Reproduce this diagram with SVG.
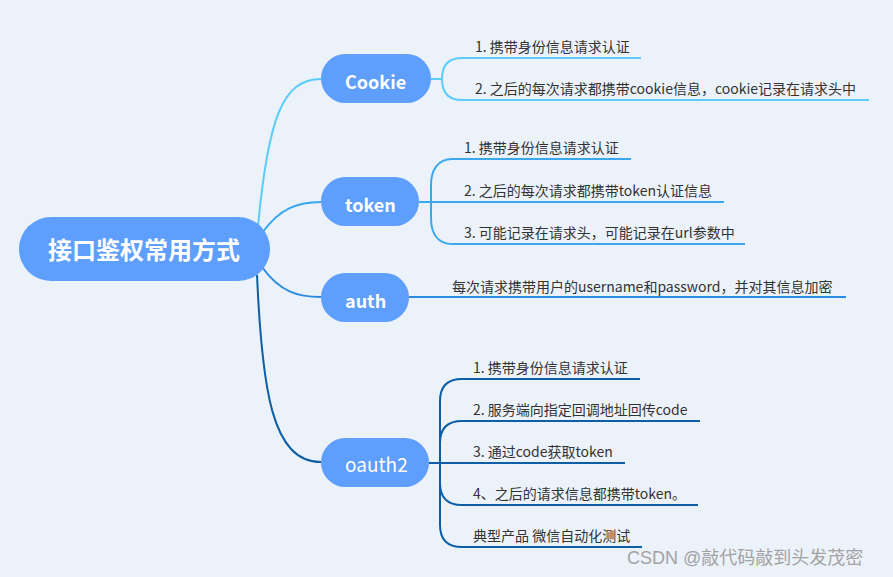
<svg xmlns="http://www.w3.org/2000/svg" width="893" height="577" viewBox="0 0 893 577">
<style>
.bg{fill:#ecf2fa}
.node{fill:#5e9efc}
.nt{fill:#fff;font-family:"Noto Sans CJK SC","Noto Sans",sans-serif;font-size:18px;font-weight:bold}
.ct{fill:#333;font-family:"Noto Sans CJK SC","Noto Sans",sans-serif;font-size:14px}
.l{fill:none;stroke-width:2}
.c1{stroke:#5ccdf8}
.c2{stroke:#3aa8ef}
.c3{stroke:#2b8be0}
.c4{stroke:#0c5fa6}
.wm{fill:#a3a3a3;font-family:"Liberation Sans","Noto Sans CJK SC",sans-serif;font-size:18px}
</style>
<rect class="bg" x="0" y="0" width="893" height="577"/>
<g id="connectors">
  <path class="l c1" d="M258 226 C268 120 282 79 321 79"/>
  <path class="l c2" d="M262 233 C280 208 298 202 321 202"/>
  <path class="l c3" d="M262 267 C280 292 298 297 321 297"/>
  <path class="l c4" d="M257 275 C262 390 272 462 321 462"/>
  <path class="l c1" d="M431 79 H442"/>
  <path class="l c1" d="M641 58 H462 C448 58 442 66 442 79 C442 92 448 100 462 100 H869"/>
  <path class="l c2" d="M631 159 H452 C438 159 431 170 431 185 V218 C431 234 438 244 452 244 H745"/>
  <path class="l c2" d="M419 202 H724"/>
  <path class="l c3" d="M409 297 H846"/>
  <path class="l c4" d="M440 463 V401 Q440 379 462 379 H640"/>
  <path class="l c4" d="M440 463 V443 Q440 421 462 421 H700"/>
  <path class="l c4" d="M429 463 H625"/>
  <path class="l c4" d="M440 463 V483 Q440 505 462 505 H698"/>
  <path class="l c4" d="M440 463 V525 Q440 547 462 547 H642"/>
</g>
<g id="root">
  <rect class="node" x="19" y="217" width="251" height="64" rx="32"/>
  <text x="48" y="259" fill="#fff" font-family="Noto Sans CJK SC, sans-serif" font-size="24" font-weight="bold">接口鉴权常用方式</text>
</g>
<g id="cookie">
  <rect class="node" x="321" y="54" width="110" height="49" rx="24.5"/>
  <text class="nt" x="345" y="89">Cookie</text>
</g>
<g id="token">
  <rect class="node" x="321" y="177" width="98" height="49" rx="24.5"/>
  <text class="nt" x="345" y="212">token</text>
</g>
<g id="auth">
  <rect class="node" x="321" y="273" width="88" height="49" rx="24.5"/>
  <text class="nt" x="345" y="308">auth</text>
</g>
<g id="oauth2">
  <rect class="node" x="321" y="438" width="108" height="49" rx="24.5"/>
  <text class="nt" x="345" y="472" style="font-weight:normal;font-size:19px">oauth2</text>
</g>
<g id="cookie-1"><text class="ct" x="475" y="52">1. 携带身份信息请求认证</text></g>
<g id="cookie-2"><text class="ct" x="475" y="94">2. 之后的每次请求都携带cookie信息，cookie记录在请求头中</text></g>
<g id="token-1"><text class="ct" x="464" y="153">1. 携带身份信息请求认证</text></g>
<g id="token-2"><text class="ct" x="464" y="196">2. 之后的每次请求都携带token认证信息</text></g>
<g id="token-3"><text class="ct" x="464" y="238">3. 可能记录在请求头，可能记录在url参数中</text></g>
<g id="auth-1"><text class="ct" x="452" y="292">每次请求携带用户的username和password，并对其信息加密</text></g>
<g id="oauth2-1"><text class="ct" x="473" y="373">1. 携带身份信息请求认证</text></g>
<g id="oauth2-2"><text class="ct" x="473" y="415">2. 服务端向指定回调地址回传code</text></g>
<g id="oauth2-3"><text class="ct" x="473" y="457">3. 通过code获取token</text></g>
<g id="oauth2-4"><text class="ct" x="473" y="499">4、之后的请求信息都携带token。</text></g>
<g id="oauth2-5"><text class="ct" x="473" y="541">典型产品 微信自动化测试</text></g>
<text class="wm" x="627" y="564">CSDN @敲代码敲到头发茂密</text>
</svg>
